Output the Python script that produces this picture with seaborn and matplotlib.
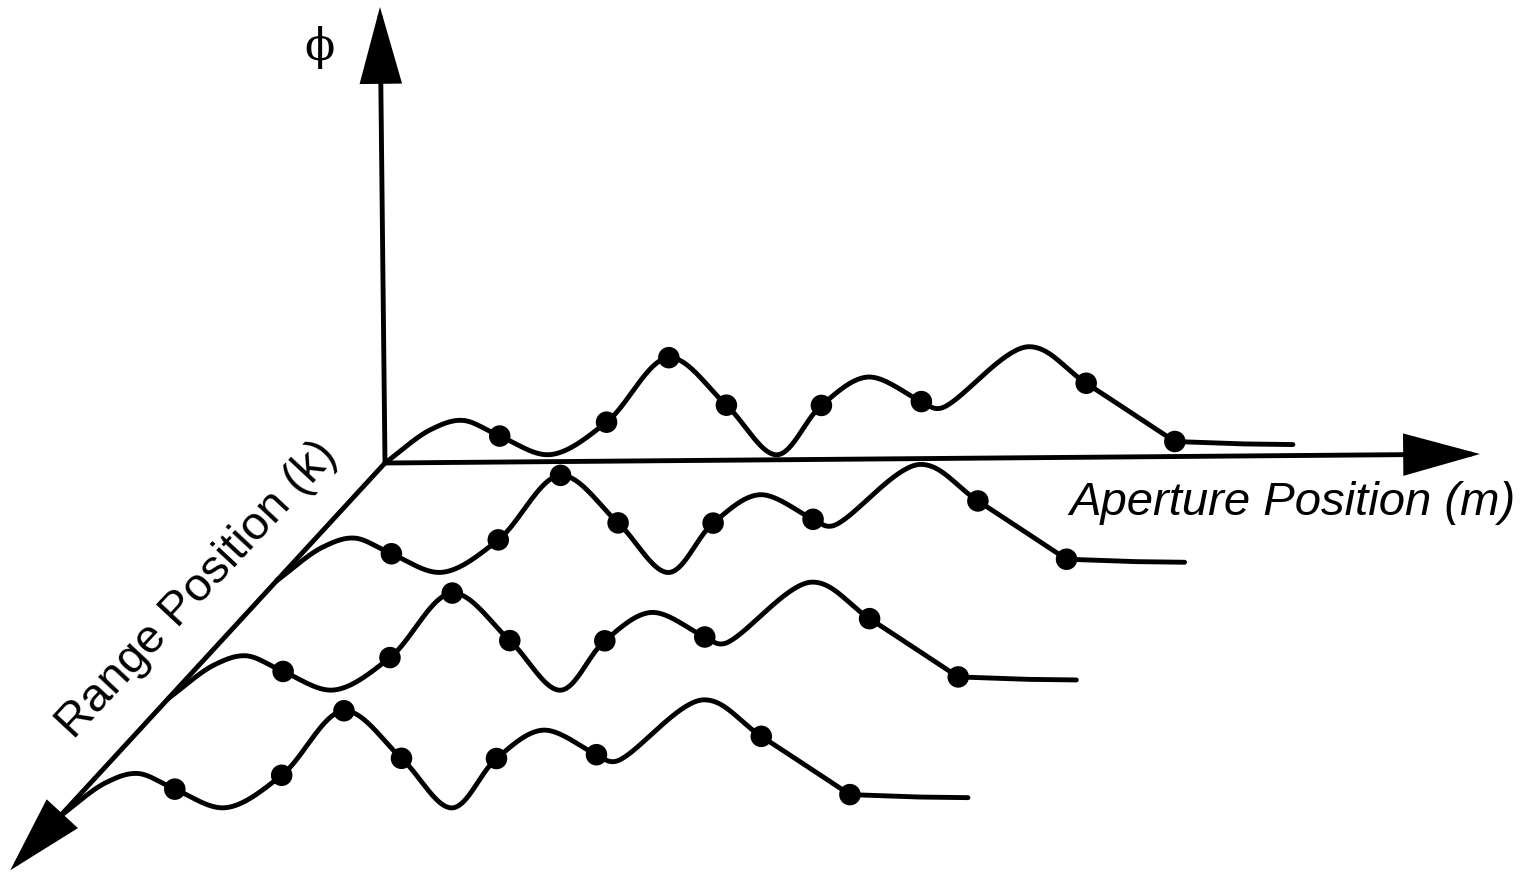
import numpy as np
import pandas as pd
import matplotlib
matplotlib.use("Agg")
import matplotlib.pyplot as plt
import seaborn as sns

# Phase history phi(m) along the aperture, repeated for every range bin k
aperture_knots = [0, 46, 78, 115, 165, 222, 285, 342, 392, 437, 484, 537, 555, 645, 702, 790]
phi_knots = [0, 33, 42, 26, 7, 39, 103, 55, 5, 54, 82, 57, 50, 111, 74, 15]
# flat tail after the last sample
tail_aperture = [790, 860, 908]
tail_phi = [15, 12, 11]
# aperture positions where the phase is sampled (dots)
sample_positions = [115, 222, 285, 342, 437, 537, 702, 790]
range_positions = [0, 1, 2, 3]

# axis extents in the same units
aperture_axis_end = 1095
phi_axis_end = 456
range_axis_end = 3.46

# oblique projection of (m, k, phi) onto the drawing plane
ORIGIN = np.array([385.0, 463.0])
M_DIR = np.array([1.0, -0.0082])
K_DIR = np.array([-108.3, 117.7])
PHI_DIR = np.array([-0.011, -1.0])


def project(m, k, phi):
    m = np.asarray(m, float)[..., None]
    phi = np.asarray(phi, float)[..., None]
    k = np.asarray(k, float)[..., None]
    p = ORIGIN + m * M_DIR + k * K_DIR + phi * PHI_DIR
    return p[..., 0], p[..., 1]


def catmull_rom(xs, ys, n=40, alpha=0.5):
    """Centripetal Catmull-Rom curve through the given knots."""
    P = np.column_stack([xs, ys]).astype(float)
    P = np.vstack([2 * P[0] - P[1], P, 2 * P[-1] - P[-2]])
    out = []
    for i in range(1, len(P) - 2):
        p0, p1, p2, p3 = P[i - 1], P[i], P[i + 1], P[i + 2]
        t0 = 0.0
        t1 = t0 + np.linalg.norm(p1 - p0) ** alpha
        t2 = t1 + np.linalg.norm(p2 - p1) ** alpha
        t3 = t2 + np.linalg.norm(p3 - p2) ** alpha
        t = np.linspace(t1, t2, n, endpoint=False)[:, None]
        A1 = (t1 - t) / (t1 - t0) * p0 + (t - t0) / (t1 - t0) * p1
        A2 = (t2 - t) / (t2 - t1) * p1 + (t - t1) / (t2 - t1) * p2
        A3 = (t3 - t) / (t3 - t2) * p2 + (t - t2) / (t3 - t2) * p3
        B1 = (t2 - t) / (t2 - t0) * A1 + (t - t0) / (t2 - t0) * A2
        B2 = (t3 - t) / (t3 - t1) * A2 + (t - t1) / (t3 - t1) * A3
        out.append((t2 - t) / (t2 - t1) * B1 + (t - t1) / (t2 - t1) * B2)
    out.append(P[-2][None])
    C = np.vstack(out)
    return C[:, 0], C[:, 1]


sns.set_theme(style="white")
plt.rcParams["font.family"] = ["Liberation Sans", "DejaVu Sans"]
plt.rcParams["text.color"] = "black"

fig = plt.figure(figsize=(15.29, 8.77), dpi=100)
ax = fig.add_axes([0, 0, 1, 1])

LW = 3.5
head = dict(arrowstyle="-|>,head_length=4.7,head_width=1.3", mutation_scale=10,
            lw=LW, color="black", shrinkA=0, shrinkB=0, joinstyle="miter")

o = project(0, 0, 0)
axis_tips = [project(aperture_axis_end, 0, 0),
             project(0, 0, phi_axis_end),
             project(0, range_axis_end, 0)]
for tip in axis_tips:
    ax.annotate("", xy=(float(tip[0]), float(tip[1])), xytext=(float(o[0]), float(o[1])),
                arrowprops=head, zorder=2)

# one phase curve per range position: smooth part plus straight tail
mm, pp = catmull_rom(aperture_knots, phi_knots)
mm = np.concatenate([mm, tail_aperture[1:]])
pp = np.concatenate([pp, tail_phi[1:]])
lookup = dict(zip(aperture_knots, phi_knots))
sample_phi = [lookup[m] for m in sample_positions]

curves, dots = [], []
for k in range_positions:
    x, y = project(mm, np.full_like(mm, k), pp)
    curves.append(pd.DataFrame({"x": x, "y": y, "k": k}))
    dx, dy = project(sample_positions, np.full(len(sample_positions), k), sample_phi)
    dots.append(pd.DataFrame({"x": dx, "y": dy, "k": k}))
curves = pd.concat(curves, ignore_index=True)
dots = pd.concat(dots, ignore_index=True)

for k, grp in curves.groupby("k"):
    sns.lineplot(data=grp, x="x", y="y", sort=False, estimator=None, color="black",
                 lw=LW, ax=ax, legend=False, zorder=3, solid_capstyle="round",
                 solid_joinstyle="round")
sns.scatterplot(data=dots, x="x", y="y", color="black", s=240, edgecolor="none",
                ax=ax, legend=False, zorder=4)

ax.set_xlim(0, 1529)
ax.set_ylim(877, 0)
ax.set_xlabel("")
ax.set_ylabel("")
ax.axis("off")

ax.text(320, 47, "\u03d5", fontsize=32, family=["DejaVu Serif"], color="black",
        ha="center", va="center")
ax.text(1292, 503, "Aperture Position (m)", fontsize=34, style="italic", color="black",
        ha="center", va="center")
ax.text(197, 590, "Range Position (k)", fontsize=34, rotation=47, color="black",
        rotation_mode="anchor", ha="center", va="center")

fig.savefig("out.png", dpi=100, facecolor="white")
